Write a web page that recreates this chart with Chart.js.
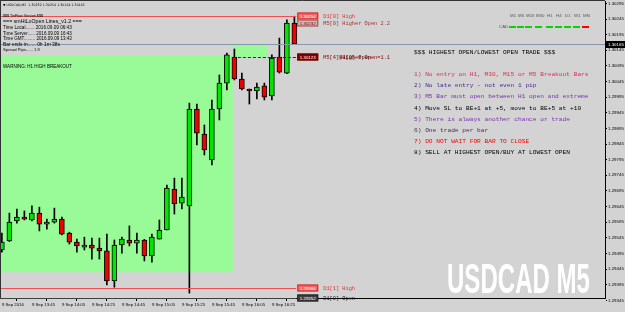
<!DOCTYPE html>
<html><head><meta charset="utf-8">
<script src="https://cdn.jsdelivr.net/npm/chart.js@4.4.0/dist/chart.umd.min.js"></script>
<style>html,body{margin:0;padding:0;background:#d3d3d3;overflow:hidden}canvas{display:block}</style>
</head><body>
<canvas id="c" width="625" height="312"></canvas>
<script>
// ---- data ----
const barTimes = ['13:25','13:30','13:35','13:40','13:45','13:50','13:55','14:00','14:05','14:10','14:15','14:20','14:25','14:30','14:35','14:40','14:45','14:50','14:55','15:00','15:05','15:10','15:15','15:20','15:25','15:30','15:35','15:40','15:45','15:50','15:55','16:00','16:05','16:10','16:15','16:20','16:25','16:30','16:35','16:40'];
const opens  = [1.29506,1.29535,1.29599,1.29611,1.29602,1.29624,1.29589,1.29595,1.29605,1.29560,1.29531,1.29515,1.29522,1.29512,1.29503,1.29407,1.29522,1.29538,1.29528,1.29538,1.29487,1.29541,1.29570,1.29701,1.29656,1.29647,1.29957,1.29877,1.29794,1.29957,1.30040,1.30123,1.30053,1.30021,1.30015,1.30031,1.29999,1.30123,1.30072,1.30232];
const highs  = [1.29560,1.29624,1.29637,1.29631,1.29647,1.29643,1.29605,1.29640,1.29611,1.29563,1.29541,1.29547,1.29544,1.29544,1.29557,1.29538,1.29547,1.29583,1.29560,1.29540,1.29557,1.29602,1.29714,1.29736,1.29736,1.29976,1.29973,1.29906,1.29986,1.30066,1.30136,1.30149,1.30072,1.30021,1.30040,1.30040,1.30130,1.30184,1.30242,1.30254];
const lows   = [1.29499,1.29533,1.29592,1.29602,1.29599,1.29567,1.29573,1.29592,1.29554,1.29525,1.29499,1.29506,1.29477,1.29477,1.29394,1.29387,1.29496,1.29519,1.29496,1.29471,1.29467,1.29541,1.29570,1.29621,1.29637,1.29368,1.29842,1.29810,1.29778,1.29922,1.30018,1.30050,1.30018,1.29973,1.29989,1.29986,1.29986,1.30072,1.30070,1.30164];
const closes = [1.29531,1.29595,1.29611,1.29605,1.29624,1.29589,1.29595,1.29605,1.29557,1.29531,1.29519,1.29522,1.29512,1.29503,1.29407,1.29522,1.29541,1.29528,1.29538,1.29487,1.29547,1.29570,1.29704,1.29653,1.29675,1.29957,1.29880,1.29826,1.29957,1.30040,1.30130,1.30053,1.30021,1.30015,1.30027,1.29995,1.30120,1.30075,1.30232,1.30165];

const xTickBars   = [0,4,8,12,16,20,24,28,32,36];
const xTickLabels = ['9 Sep 2016','9 Sep 13:45','9 Sep 14:05','9 Sep 14:25','9 Sep 14:45','9 Sep 15:05','9 Sep 15:25','9 Sep 15:45','9 Sep 16:05','9 Sep 16:25'];
const yTickValues = [1.30295,1.30245,1.30195,1.30145,1.30095,1.30045,1.29995,1.29945,1.29895,1.29845,1.29795,1.29745,1.29695,1.29645,1.29595,1.29545,1.29495,1.29445,1.29395,1.29345];

const currentPrice = 1.30165;
const levelValues = [1.30254, 1.30232, 1.30123, 1.29384, 1.29352];
const levelNames  = ['D1[0] High', 'M5[0] Higher Open 2.2', 'M5[4]|Higher Open=1.1', 'D1[1] High', 'D1[0] Open'];

const titleText = '\u25BC USDCAD,M5  1.30232 1.30254 1.30164 1.30165';
const infoLines = ['$$$ TinFlow Version $$$','=== smHiLoOpen Lines_v1.2 ===','Time Local....... 2016.09.09 06:43','Time Server...... 2016.09.09 16:43','Time GMT......... 2016.09.09 13:43','Bar ends in...... 0h 1m 38s','Spread Pips...... 1.9'];
const warningText = 'WARNING: H1 HIGH BREAKOUT';
const rulesLines = ['$$$ HIGHEST OPEN/LOWEST OPEN TRADE $$$','','1) No entry on H1, M30, M15 or M5 Breakout Bars','2) No late entry - not even 1 pip','3) M5 Bar must open between H1 open and extreme','4) Move SL to BE+1 at +5, move to BE+5 at +10','5) There is always another chance or trade','6) One trade per bar','7) DO NOT WAIT FOR BAR TO CLOSE','8) SELL AT HIGHEST OPEN/BUY AT LOWEST OPEN'];
const tfLabels = ['M1','M5','M15','M30','H1','H4','D1','W1','MN'];
const tfState  = [1,1,1,1,1,1,1,1,0];
const strengthLabel = 'CAD';
const watermark = 'USDCAD M5';

// H1 boxes (bar index range, price range) and separator bars
const prevBoxBars = [-0.25, 30.8], prevBoxPrices = [1.29435, 1.30127];
const curBoxBars  = [30.8, 35.35], curBoxPrices  = [1.30123, 1.30165];
const sepBars = [7, 35], sepLowPrices = [null, 1.29976];

// ---- styles ----
const BG = '#d3d3d3';
const BULL = '#00e600', BEAR = '#f00000';
const PALE = '#98fb98';
const rulesColors = ['#000000','#000','#d8304e','#4b2a8c','#7b2fb0','#000000','#7b2fb0','#4a2a60','#ff0000','#000000'];
const tfX = [510, 518, 526, 536, 547, 556, 565, 574, 583];

function fitText(ctx, str, x, y, w, family, color, weight) {
  ctx.font = (weight||'') + ' 10px ' + family;
  const m = ctx.measureText(str).width;
  ctx.font = (weight||'') + ' ' + (10 * w / m).toFixed(2) + 'px ' + family;
  ctx.fillStyle = color; ctx.textBaseline = 'middle'; ctx.textAlign = 'left';
  ctx.fillText(str, x, y);
}
function priceBox(ctx, x, y, fill, stroke, tcol, str) {
  ctx.fillStyle = fill; ctx.fillRect(x, Math.round(y) - 3.5, 21, 7);
  ctx.strokeStyle = stroke; ctx.lineWidth = 1; ctx.strokeRect(x + 0.5, Math.round(y) - 3, 20, 6);
  ctx.font = '4.4px "Liberation Sans"'; ctx.fillStyle = tcol; ctx.textBaseline = 'middle'; ctx.textAlign = 'center';
  ctx.fillText(str, x + 10.5, Math.round(y) + 0.5);
}

const deco = {
  id: 'deco',
  beforeDraw(chart) {
    const c = chart.ctx; c.save(); c.fillStyle = BG; c.fillRect(0, 0, chart.width, chart.height); c.restore();
  },
  beforeDatasetsDraw(chart) {
    const {ctx, chartArea: a, scales: {x, y}} = chart;
    ctx.save();
    ctx.beginPath(); ctx.rect(a.left, a.top, a.right - a.left, a.bottom - a.top); ctx.clip();
    ctx.fillStyle = PALE;
    let x0 = x.getPixelForValue(prevBoxBars[0]), x1 = x.getPixelForValue(prevBoxBars[1]);
    let y0 = y.getPixelForValue(prevBoxPrices[1]), y1 = y.getPixelForValue(prevBoxPrices[0]);
    ctx.fillRect(x0, y0, x1 - x0, y1 - y0);
    x0 = x.getPixelForValue(curBoxBars[0]); x1 = x.getPixelForValue(curBoxBars[1]);
    y0 = y.getPixelForValue(curBoxPrices[1]); y1 = y.getPixelForValue(curBoxPrices[0]);
    ctx.fillRect(x0, y0, x1 - x0, y1 - y0);
    ctx.strokeStyle = PALE; ctx.lineWidth = 1;
    sepBars.forEach((b, i) => {
      const px = Math.round(x.getPixelForValue(b)) - 0.5;
      const yb = sepLowPrices[i] === null ? a.bottom : y.getPixelForValue(sepLowPrices[i]);
      ctx.beginPath(); ctx.moveTo(px, a.top); ctx.lineTo(px, yb); ctx.stroke();
    });
    ctx.restore();
  },
  afterDatasetsDraw(chart) {
    const {ctx, chartArea: a, scales: {x, y}} = chart;
    ctx.save();
    const lineEnd = x.getPixelForValue(39.25);
    const hl = (v, col, dash, from) => {
      const py = Math.round(y.getPixelForValue(v)) + 0.5;
      ctx.strokeStyle = col; ctx.setLineDash(dash || []); ctx.lineWidth = 1;
      ctx.beginPath(); ctx.moveTo(from, py); ctx.lineTo(lineEnd, py); ctx.stroke();
      ctx.setLineDash([]);
    };
    const by = Math.round(y.getPixelForValue(currentPrice)) + 0.5;
    ctx.strokeStyle = '#8797aa'; ctx.lineWidth = 1;
    ctx.beginPath(); ctx.moveTo(a.left, by); ctx.lineTo(a.right, by); ctx.stroke();
    hl(levelValues[0], '#f05050', null, a.left);
    hl(levelValues[2], '#8b0000', [3, 2], x.getPixelForValue(prevBoxBars[1]));
    hl(levelValues[3], '#f05050', null, a.left);
    hl(levelValues[4], '#404040', null, a.left);
    ctx.strokeStyle = '#333'; ctx.beginPath(); ctx.moveTo(0, 0.5); ctx.lineTo(a.right, 0.5); ctx.moveTo(0.5, 0); ctx.lineTo(0.5, a.bottom); ctx.stroke();
    const bx = lineEnd + 1;
    const boxStyles = [['#f06262','#d03030','#fff'],['#c8b8b8','#b04040','#8b0000'],['#8b0000','#600000','#fff'],['#f06262','#d03030','#fff'],['#404040','#202020','#fff']];
    const textCols = ['#e03030','#a03030','#8b0000','#e03030','#202020'];
    levelValues.forEach((v, i) => {
      const py = y.getPixelForValue(v);
      priceBox(ctx, bx, py, boxStyles[i][0], boxStyles[i][1], boxStyles[i][2], v.toFixed(5));
      ctx.font = '5.3px "Liberation Mono"'; ctx.fillStyle = textCols[i]; ctx.textAlign = 'left'; ctx.textBaseline = 'middle';
      ctx.fillText(levelNames[i], bx + 26, Math.round(py) + 0.5);
    });
    ctx.font = '5.3px "Liberation Mono"'; ctx.fillStyle = '#600000';
    ctx.fillText('H1[0] Open', bx + 42, Math.round(y.getPixelForValue(levelValues[2])) + 0.5);
    ctx.fillStyle = '#000'; ctx.fillRect(a.right + 1, Math.round(by) - 4, 20, 7);
    ctx.font = '4.4px "Liberation Sans"'; ctx.fillStyle = '#fff'; ctx.textAlign = 'left'; ctx.textBaseline = 'middle';
    ctx.fillText(currentPrice.toFixed(5), a.right + 3, by);
    fitText(ctx, titleText, 3, 5, 82, '"DejaVu Sans"', '#000');
    const infoW = [40, 79, 69, 69, 69, 57, 37], infoY = [16, 22, 27.7, 33.3, 39, 44.3, 50];
    infoLines.forEach((s, i) => fitText(ctx, s, 3, infoY[i], infoW[i], '"Liberation Sans"', '#000'));
    fitText(ctx, warningText, 3, 67, 69, '"Liberation Sans"', '#000');
    const ry = [52.3, 63.3, 74.3, 85.3, 96.7, 108.3, 119.3, 130, 141.7, 152.7];
    ctx.font = '6.2px "Liberation Mono"'; ctx.textAlign = 'left'; ctx.textBaseline = 'middle';
    rulesLines.forEach((s, i) => { ctx.fillStyle = rulesColors[i]; ctx.fillText(s, 414, ry[i]); });
    ctx.font = '4.4px "Liberation Sans"';
    tfLabels.forEach((s, i) => {
      ctx.fillStyle = '#555'; ctx.fillText(s, tfX[i], 16);
      ctx.fillStyle = tfState[i] ? '#00d800' : '#ff0000';
      ctx.fillRect(tfX[i] - 1, 26, 7, 2);
    });
    ctx.fillStyle = '#555'; ctx.fillText(strengthLabel, 499, 27);
    ctx.save();
    ctx.font = 'bold 42px "Liberation Sans"';
    const ww = ctx.measureText(watermark).width;
    ctx.translate(447, 293); ctx.scale(143 / ww, 1);
    ctx.fillStyle = '#ffffff'; ctx.textBaseline = 'alphabetic'; ctx.textAlign = 'left';
    ctx.fillText(watermark, 0, 0);
    ctx.restore();
    ctx.restore();
  }
};

const wickData = barTimes.map((t, i) => ({x: i, y: [lows[i], highs[i]]}));
const bodyData = barTimes.map((t, i) => ({x: i, y: [opens[i], closes[i]]}));

new Chart(document.getElementById('c'), {
  type: 'bar',
  data: {
    datasets: [
      {label: 'wick', data: wickData, barThickness: 1, backgroundColor: '#000', grouped: false, order: 2},
      {label: 'body', data: bodyData, barThickness: 5, grouped: false, order: 1,
       backgroundColor: barTimes.map((t, i) => closes[i] >= opens[i] ? BULL : BEAR),
       borderColor: '#000', borderWidth: 1, borderSkipped: false}
    ]
  },
  options: {
    responsive: false, animation: false, devicePixelRatio: 1,
    layout: {padding: {top: 1, left: 0, right: 0, bottom: 0}},
    plugins: {legend: {display: false}, tooltip: {enabled: false}},
    scales: {
      x: {type: 'linear', bounds: 'data', offset: false, min: -0.25, max: -0.25 + 605 / 7.5, position: 'bottom',
          afterFit(s) { s.height = 14; s.paddingLeft = 0; s.paddingRight = 0; },
          afterBuildTicks(s) { s.ticks = xTickBars.map(v => ({value: v})); },
          ticks: {autoSkip: false, maxRotation: 0, minRotation: 0, align: 'start', padding: 1, color: '#000',
                  font: {family: 'Liberation Sans', size: 4.3},
                  callback(v) { const i = xTickBars.indexOf(v); return i >= 0 ? xTickLabels[i] : ''; }},
          grid: {drawOnChartArea: false, drawTicks: true, tickLength: 3, color: '#000'},
          border: {display: true, color: '#000'}},
      y: {type: 'linear', bounds: 'data', position: 'right', min: 1.293524, max: 1.303026,
          afterFit(s) { s.width = 20; s.paddingTop = 0; s.paddingBottom = 0; },
          afterBuildTicks(s) { s.ticks = yTickValues.map(v => ({value: v})); },
          ticks: {autoSkip: false, padding: 1, color: '#000', font: {family: 'Liberation Sans', size: 4.4},
                  callback: v => v.toFixed(5)},
          grid: {drawOnChartArea: false, drawTicks: true, tickLength: 2, color: '#000'},
          border: {display: true, color: '#000'}}
    }
  },
  plugins: [deco]
});
</script>
</body></html>
